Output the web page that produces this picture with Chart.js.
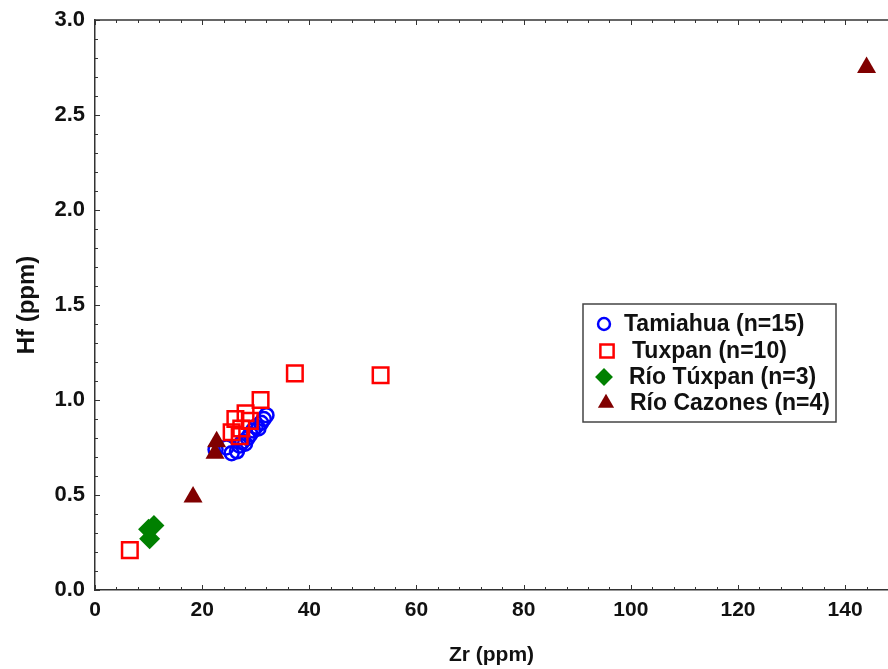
<!DOCTYPE html>
<html>
<head>
<meta charset="utf-8">
<script src="https://cdn.jsdelivr.net/npm/chart.js@4/dist/chart.umd.min.js"></script>
<style>
  html, body { margin: 0; padding: 0; background: #fff; }
  #wrap { width: 888px; height: 669px; }
</style>
</head>
<body>
<div id="wrap"><canvas id="zrHf" width="888" height="669"></canvas></div>
<script>
// Zr vs Hf (ppm)
const tamiahuaZr = [22.5, 24.5, 25.5, 26.5, 27.0, 27.5, 28.0, 28.5, 29.0, 29.5, 30.0, 30.5, 31.0, 31.5, 32.0];
const tamiahuaHf = [0.74, 0.75, 0.72, 0.73, 0.76, 0.78, 0.77, 0.80, 0.82, 0.84, 0.86, 0.85, 0.88, 0.90, 0.92];

const tuxpanZr = [6.5, 37.3, 53.3, 30.9, 28.1, 26.2, 28.9, 25.5, 27.3, 27.0];
const tuxpanHf = [0.21, 1.14, 1.13, 1.00, 0.93, 0.90, 0.89, 0.83, 0.85, 0.81];

const rioTuxpanZr = [11.0, 10.0, 10.2];
const rioTuxpanHf = [0.34, 0.32, 0.27];

const rioCazonesZr = [18.3, 22.7, 22.4, 144.0];
const rioCazonesHf = [0.49, 0.78, 0.72, 2.75];

const xTicks = [0, 20, 40, 60, 80, 100, 120, 140];
const yTicks = [0.0, 0.5, 1.0, 1.5, 2.0, 2.5, 3.0];

const fontFam = '"Liberation Sans", Arial, sans-serif';
const axisColor = '#333333';

function toPoints(xs, ys) {
  return xs.map((x, i) => ({x: x, y: ys[i]}));
}

// inward tick marks on left, bottom and top, plus the top frame line
const frameTicks = {
  id: 'frameTicks',
  afterDraw(chart) {
    const ctx = chart.ctx;
    const a = chart.chartArea;
    const xs = chart.scales.x, ys = chart.scales.y;
    ctx.save();
    ctx.strokeStyle = axisColor;
    ctx.lineWidth = 1.5;
    ctx.beginPath();
    ctx.moveTo(a.left, a.top);
    ctx.lineTo(a.right, a.top);
    ctx.stroke();
    ctx.lineWidth = 1;
    for (let v = 0; v <= xs.max; v += 4) {
      const px = Math.round(xs.getPixelForValue(v)) + 0.5;
      const len = v % 20 === 0 ? 5 : 3;
      ctx.beginPath();
      ctx.moveTo(px, a.bottom);
      ctx.lineTo(px, a.bottom - len);
      ctx.moveTo(px, a.top);
      ctx.lineTo(px, a.top + len);
      ctx.stroke();
    }
    for (let i = 0; i <= 30; i++) {
      const py = Math.round(ys.getPixelForValue(i / 10)) + 0.5;
      const len = i % 5 === 0 ? 5 : 3;
      ctx.beginPath();
      ctx.moveTo(a.left, py);
      ctx.lineTo(a.left + len, py);
      ctx.stroke();
    }
    ctx.restore();
  }
};

// boxed legend inside the plot
const boxLegend = {
  id: 'boxLegend',
  afterDraw(chart) {
    const ctx = chart.ctx;
    const box = {x: 583, y: 304, w: 253, h: 118};
    const rowY = [324, 351, 377, 403];
    const markX = [604, 607, 604, 606];
    const textX = [624, 632, 629, 630];
    ctx.save();
    ctx.fillStyle = '#ffffff';
    ctx.fillRect(box.x, box.y, box.w, box.h);
    ctx.strokeStyle = '#444444';
    ctx.lineWidth = 1.5;
    ctx.strokeRect(box.x, box.y, box.w, box.h);
    chart.data.datasets.forEach((ds, i) => {
      ctx.fillStyle = ds.backgroundColor;
      ctx.strokeStyle = ds.borderColor;
      ctx.lineWidth = ds.borderWidth;
      Chart.helpers.drawPoint(ctx, {
        pointStyle: ds.pointStyle,
        radius: ds.pointRadius * 0.85,
        rotation: 0,
        borderWidth: ds.borderWidth
      }, markX[i], rowY[i]);
      ctx.fillStyle = '#111111';
      ctx.font = 'bold 23px ' + fontFam;
      ctx.textAlign = 'left';
      ctx.textBaseline = 'middle';
      ctx.fillText(ds.label, textX[i], rowY[i] + 1);
    });
    ctx.restore();
  }
};

new Chart(document.getElementById('zrHf'), {
  type: 'scatter',
  data: {
    datasets: [
      {
        label: 'Tamiahua (n=15)',
        data: toPoints(tamiahuaZr, tamiahuaHf),
        order: 3,
        pointStyle: 'circle',
        pointRadius: 7,
        borderWidth: 2.5,
        borderColor: '#0000ff',
        backgroundColor: 'rgba(0,0,0,0)'
      },
      {
        label: 'Tuxpan (n=10)',
        data: toPoints(tuxpanZr, tuxpanHf),
        order: 2,
        pointStyle: 'rect',
        pointRadius: 11,
        borderWidth: 2.5,
        borderColor: '#ff0000',
        backgroundColor: 'rgba(0,0,0,0)'
      },
      {
        label: 'Río Túxpan (n=3)',
        data: toPoints(rioTuxpanZr, rioTuxpanHf),
        order: 1,
        pointStyle: 'rectRot',
        pointRadius: 10.5,
        borderWidth: 0,
        borderColor: '#008000',
        backgroundColor: '#008000'
      },
      {
        label: 'Río Cazones (n=4)',
        data: toPoints(rioCazonesZr, rioCazonesHf),
        order: 0,
        pointStyle: 'triangle',
        pointRadius: 11,
        borderWidth: 0,
        borderColor: '#800000',
        backgroundColor: '#800000'
      }
    ]
  },
  options: {
    responsive: false,
    animation: false,
    devicePixelRatio: 1,
    layout: { autoPadding: false, padding: { top: 20, right: 0, left: 0, bottom: 0 } },
    plugins: {
      legend: { display: false },
      tooltip: { enabled: false }
    },
    scales: {
      x: {
        type: 'linear',
        min: 0,
        max: 148,
        grid: { display: false, drawTicks: false },
        border: { display: true, color: axisColor, width: 1.5 },
        afterBuildTicks(scale) { scale.ticks = xTicks.map(v => ({value: v})); },
        afterFit(scale) {
          scale.height = 79;
          scale.paddingLeft = 0;
          scale.paddingRight = 0;
        },
        ticks: {
          padding: 8,
          color: '#111111',
          font: { family: fontFam, size: 21, weight: 'bold' },
          maxRotation: 0,
          callback: v => String(v)
        },
        title: {
          display: true,
          text: 'Zr (ppm)',
          color: '#111111',
          font: { family: fontFam, size: 21, weight: 'bold' },
          padding: { top: 0, bottom: 1 }
        }
      },
      y: {
        type: 'linear',
        min: 0,
        max: 3,
        grid: { display: false, drawTicks: false },
        border: { display: true, color: axisColor, width: 1.5 },
        afterBuildTicks(scale) { scale.ticks = yTicks.map(v => ({value: v})); },
        afterFit(scale) {
          scale.width = 95;
          scale.paddingTop = 0;
          scale.paddingBottom = 0;
        },
        ticks: {
          padding: 10,
          color: '#111111',
          font: { family: fontFam, size: 22, weight: 'bold' },
          callback: v => Number(v).toFixed(1)
        },
        title: {
          display: true,
          text: 'Hf (ppm)',
          color: '#111111',
          font: { family: fontFam, size: 24, weight: 'bold' },
          padding: { top: 13, bottom: 0 }
        }
      }
    }
  },
  plugins: [frameTicks, boxLegend]
});
</script>
</body>
</html>
